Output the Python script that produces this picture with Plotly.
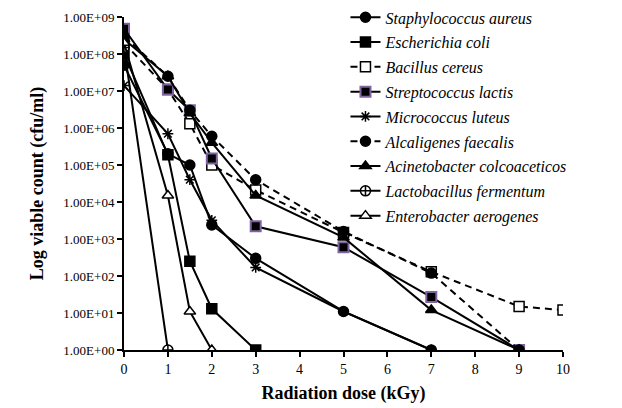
import plotly.graph_objects as go

# ---- data ----
dose_staph = [0, 1, 1.5, 2, 3, 5, 7]
staph = [5e7, 2e5, 1e5, 2.4e3, 3e2, 11, 1]

dose_ecoli = [0, 1, 1.5, 2, 3]
ecoli = [1e8, 1.9e5, 2.5e2, 13, 1]

dose_bacillus = [0, 1, 1.5, 2, 3, 5, 7, 9, 10]
bacillus = [2e8, 1.1e7, 1.3e6, 1e5, 2.1e4, 1.5e3, 1.3e2, 15, 12]

dose_strep = [0, 1, 1.5, 2, 3, 5, 7, 9]
strep = [4.8e8, 1.1e7, 3e6, 1.5e5, 2.2e3, 6e2, 27, 1]

dose_micro = [0, 1, 1.5, 2, 3, 5, 7]
micro = [1.4e7, 7e5, 4e4, 3.2e3, 1.7e2, 11, 1]

dose_alcal = [0, 1, 1.5, 2, 3, 5, 7, 9]
alcal = [3e8, 2.5e7, 3e6, 6e5, 4e4, 1.6e3, 1.2e2, 1]

dose_acin = [0, 1, 1.5, 2, 3, 5, 7, 9]
acin = [2.5e8, 2.5e7, 2.5e6, 4e5, 1.5e4, 1.1e3, 12, 1]

dose_lacto = [0, 1]
lacto = [1.5e8, 1]

dose_entero = [0, 1, 1.5, 2]
entero = [2e8, 1.5e4, 11, 1]

y_tickvals = [1, 1e1, 1e2, 1e3, 1e4, 1e5, 1e6, 1e7, 1e8, 1e9]
y_ticktext = ["1.00E+00", "1.00E+01", "1.00E+02", "1.00E+03", "1.00E+04",
              "1.00E+05", "1.00E+06", "1.00E+07", "1.00E+08", "1.00E+09"]
x_tickvals = [0, 1, 2, 3, 4, 5, 6, 7, 8, 9, 10]

FONT = "Liberation Serif, Times New Roman, serif"
PURPLE = "#8064A2"

series = [
    ("Staphylococcus aureus", dose_staph, staph, "circle", "black", "black", "solid"),
    ("Escherichia coli", dose_ecoli, ecoli, "square", "black", "black", "solid"),
    ("Bacillus cereus", dose_bacillus, bacillus, "square", "white", "black", "7px,5px"),
    ("Streptococcus lactis", dose_strep, strep, "square", "black", PURPLE, "solid"),
    ("Micrococcus luteus", dose_micro, micro, "asterisk-open", "black", "black", "solid"),
    ("Alcaligenes faecalis", dose_alcal, alcal, "circle", "black", "black", "7px,5px"),
    ("Acinetobacter colcoaceticos", dose_acin, acin, "triangle-up", "black", "black", "solid"),
    ("Lactobacillus fermentum", dose_lacto, lacto, "circle-cross", "white", "black", "solid"),
    ("Enterobacter aerogenes", dose_entero, entero, "triangle-up", "white", "black", "solid"),
]

fig = go.Figure()
for i, (name, xs, ys, sym, fill, edge, dash) in enumerate(series):
    fig.add_trace(go.Scatter(
        x=xs, y=ys, mode="lines+markers", name=name,
        legendgroup=f"g{i}",
        line=dict(color="black", width=2, dash=dash),
        marker=dict(symbol=sym, size=10 if sym != "asterisk-open" else 9,
                    color=fill,
                    line=dict(color=edge, width=2 if edge == PURPLE else 1.5)),
    ))

fig.update_layout(
    width=622, height=408,
    margin=dict(l=124, r=59, t=17, b=58, autoexpand=False),
    paper_bgcolor="white", plot_bgcolor="white",
    font=dict(family=FONT, color="black"),
    showlegend=True,
    legend=dict(
        x=0.5045, y=1.05, xanchor="left", yanchor="top",
        font=dict(family=FONT, size=16, style="italic"),
        bgcolor="rgba(0,0,0,0)", borderwidth=0,
        tracegroupgap=1, itemwidth=30, maxheight=1.0,
    ),
    xaxis=dict(
        range=[0, 10], tickvals=x_tickvals,
        showline=True, linecolor="black", linewidth=2,
        ticks="outside", ticklen=5, tickwidth=2, tickcolor="black",
        showgrid=False, zeroline=False,
        tickfont=dict(family=FONT, size=14),
        title=dict(text="<b>Radiation dose (kGy)</b>",
                   font=dict(family=FONT, size=18), standoff=11),
    ),
    yaxis=dict(
        type="log", range=[0, 9],
        tickvals=y_tickvals, ticktext=y_ticktext,
        showline=True, linecolor="black", linewidth=2,
        ticks="outside", ticklen=5, tickwidth=2, tickcolor="black",
        showgrid=False, zeroline=False,
        tickfont=dict(family=FONT, size=13),
        title=dict(text="<b>Log viable count (cfu/ml)</b>",
                   font=dict(family=FONT, size=18), standoff=15),
    ),
)

fig.write_html("out.html", config={"displayModeBar": False},
               post_script="document.body.style.margin='0';")
